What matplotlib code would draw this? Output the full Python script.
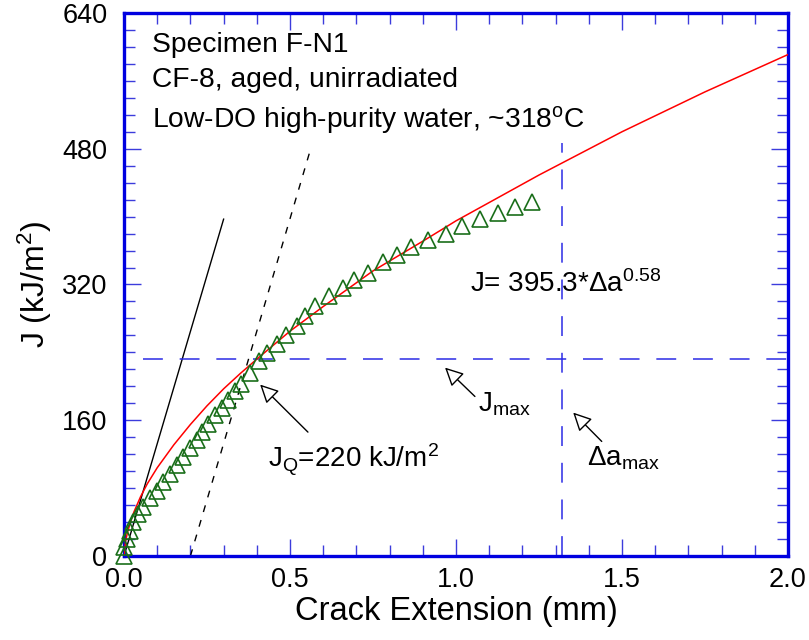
import matplotlib
matplotlib.use("Agg")
from matplotlib import pyplot as plt
from matplotlib.ticker import MultipleLocator

plt.rcParams['font.family'] = ['Liberation Sans', 'DejaVu Sans']
plt.rcParams['mathtext.fontset'] = 'custom'
plt.rcParams['mathtext.rm'] = 'Liberation Sans'
plt.rcParams['mathtext.it'] = 'Liberation Sans'
plt.rcParams['mathtext.default'] = 'regular'

# measured J-R data (triangles)
da_data = [0.0, 0.0, 0.008, 0.018, 0.028, 0.043, 0.058, 0.078, 0.098, 0.118,
           0.139, 0.159, 0.179, 0.199, 0.219, 0.234, 0.254, 0.274, 0.294, 0.314,
           0.334, 0.352, 0.380, 0.407, 0.430, 0.462, 0.488, 0.520, 0.545, 0.575,
           0.618, 0.659, 0.693, 0.736, 0.779, 0.821, 0.864, 0.916, 0.969, 1.019,
           1.072, 1.126, 1.178, 1.229]
J_data = [0, 10, 20, 30, 40, 50, 58, 68, 77, 87,
          97, 107, 117, 127, 137, 146, 156, 166, 174, 184,
          194, 203, 216, 230, 239, 250, 261, 271, 283, 295,
          306, 316, 325, 334, 346, 355, 364, 372, 380, 389,
          397, 404, 411, 417]

# power-law fit curve
da_fit = [0.0, 0.005, 0.01, 0.02, 0.03, 0.05, 0.07, 0.1, 0.15, 0.2, 0.25, 0.3,
          0.35, 0.4, 0.5, 0.6, 0.75, 0.9, 1.0, 1.25, 1.5, 1.75, 2.0]
J_fit = [0, 18, 27, 41, 52, 70, 85, 104, 131, 155, 177, 197,
         215, 232, 265, 294, 336, 371, 395, 449, 500, 547, 591]

# blunting line and 0.2 mm offset line
blunt_x = [0.0, 0.30]
blunt_y = [0, 397]
offset_x = [0.20, 0.56]
offset_y = [0, 477]

# Jmax and da_max limits
J_max = 232
da_max = 1.32

fig = plt.figure(figsize=(8.09, 6.4), dpi=100)
ax = fig.add_axes([0.1533, 0.1313, 0.8207, 0.8484])

blue = '#0000e0'
ax.plot(da_fit, J_fit, color='red', lw=1.1, zorder=3)
ax.plot(da_data, J_data, linestyle='none', marker='^', ms=11, mfc='none',
        mec='#1a6e1a', mew=1.2, zorder=4, clip_on=False)
ax.plot(blunt_x, blunt_y, color='black', lw=1.0)
ax.plot(offset_x, offset_y, color='black', lw=1.0, dashes=(5, 6))
ax.plot([0.057, 2.0], [J_max, J_max], color='#2b2be6', lw=1.1, dashes=(13, 11))
ax.plot([da_max, da_max], [0, 487], color='#2b2be6', lw=1.1, dashes=(13, 11))

ax.set_xlim(0, 2.0)
ax.set_ylim(0, 640)
ax.xaxis.set_major_locator(MultipleLocator(0.5))
ax.xaxis.set_minor_locator(MultipleLocator(0.1))
ax.yaxis.set_major_locator(MultipleLocator(160))
ax.yaxis.set_minor_locator(MultipleLocator(20))
ax.set_xticks([0, 0.5, 1.0, 1.5, 2.0])
ax.set_xticklabels(['0.0', '0.5', '1.0', '1.5', '2.0'])
ax.tick_params(which='both', direction='in', top=True, right=True,
               color='#3c3cdc', labelsize=19.5)
ax.tick_params(which='major', length=12, width=1.0)
ax.tick_params(which='minor', length=8, width=1.0)
ax.tick_params(axis='y', pad=12)
ax.tick_params(axis='x', pad=8)
for s in ax.spines.values():
    s.set_color(blue)
    s.set_linewidth(2.4)

ax.set_xlabel('Crack Extension (mm)', fontsize=23.5, labelpad=2)
ax.set_ylabel('J (kJ/m$^2$)', fontsize=23, labelpad=6)

ax.text(0.084, 594, 'Specimen F-N1', fontsize=20.3, va='baseline')
ax.text(0.084, 553, 'CF-8, aged, unirradiated', fontsize=20.3, va='baseline')
ax.text(0.084, 505, 'Low-DO high-purity water, ~318$^{\\rm o}$C', fontsize=20.3, va='baseline')
ax.text(1.042, 311, 'J= 395.3*$\\Delta$a$^{0.58}$', fontsize=20, va='baseline')

arrow = dict(arrowstyle='-|>', mutation_scale=28, fc='white', ec='black', lw=1.0,
             shrinkA=0, shrinkB=0)
ax.annotate('', xy=(0.41, 202), xytext=(0.554, 146), arrowprops=arrow)
ax.annotate('', xy=(0.967, 222), xytext=(1.057, 188), arrowprops=arrow)
ax.annotate('', xy=(1.353, 169), xytext=(1.439, 135), arrowprops=arrow)
ax.text(0.434, 104, 'J$_Q$=220 kJ/m$^2$', fontsize=20, va='baseline')
ax.text(1.067, 170, 'J$_{max}$', fontsize=20, va='baseline')
ax.text(1.396, 107, '$\\Delta$a$_{max}$', fontsize=20, va='baseline')

fig.savefig('out.png', dpi=100)
